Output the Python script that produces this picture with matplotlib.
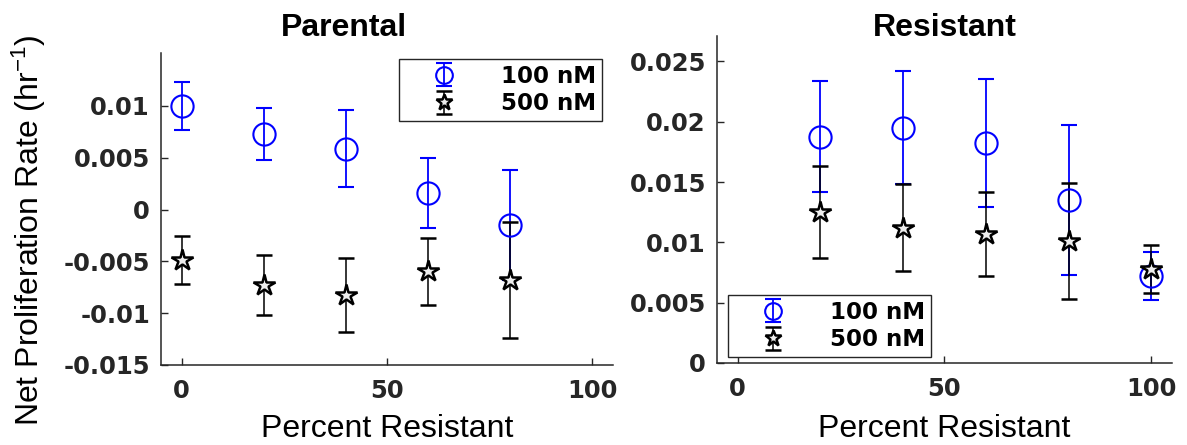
import matplotlib
matplotlib.use("Agg")
import matplotlib.pyplot as plt

plt.rcParams['mathtext.fontset'] = 'custom'
plt.rcParams['mathtext.rm'] = 'Liberation Sans'
plt.rcParams['mathtext.default'] = 'regular'

# Parental panel
par_x = [0, 20, 40, 60, 80]
par_100 = [0.0100, 0.00726, 0.00587, 0.00161, -0.00152]
par_100_err = [0.0023, 0.0025, 0.0037, 0.0034, 0.0053]
par_500 = [-0.00484, -0.00726, -0.00823, -0.00597, -0.00677]
par_500_err = [0.0023, 0.0029, 0.0036, 0.0032, 0.0056]

# Resistant panel
res_x = [20, 40, 60, 80, 100]
res_100 = [0.01874, 0.01951, 0.01825, 0.01351, 0.00722]
res_100_err = [0.0046, 0.0047, 0.0053, 0.0062, 0.0020]
res_500 = [0.01249, 0.01122, 0.01067, 0.01014, 0.00777]
res_500_err = [0.0038, 0.0036, 0.0035, 0.0048, 0.0020]

par_yticks = [-0.015, -0.01, -0.005, 0, 0.005, 0.01]
par_ylabels = ['-0.015', '-0.01', '-0.005', '0', '0.005', '0.01']
res_yticks = [0, 0.005, 0.01, 0.015, 0.02, 0.025]
res_ylabels = ['0', '0.005', '0.01', '0.015', '0.02', '0.025']
xticks = [0, 50, 100]

axis_col = '#262626'
tick_fs = 17.5
label_font = 'Liberation Sans'

fig = plt.figure(figsize=(11.87, 4.45), dpi=100)
# axes placed in pixel terms (figure 1187 x 445)
ax1 = fig.add_axes([161 / 1187, 80 / 445, 451.5 / 1187, 312 / 445])
ax2 = fig.add_axes([717 / 1187, 82 / 445, 455 / 1187, 327 / 445])


def draw(ax, x, y1, e1, y2, e2):
    ax.errorbar(x, y1, yerr=e1, fmt='o', color='#0000ff', mfc='none', mec='#0000ff',
                ms=16, mew=1.5, capsize=6, capthick=1.5, elinewidth=1.3, label='100 nM')
    ax.errorbar(x, y2, yerr=e2, fmt='*', color='black', mfc='#eeeeee', mec='black',
                ms=16, mew=1.8, capsize=6, capthick=1.5, elinewidth=1.1, label='500 nM')


draw(ax1, par_x, par_100, par_100_err, par_500, par_500_err)
draw(ax2, res_x, res_100, res_100_err, res_500, res_500_err)

ax1.set_ylim(-0.015, 0.0151)
ax1.set_yticks(par_yticks)
ax1.set_yticklabels(par_ylabels)
ax2.set_ylim(0, 0.0271)
ax2.set_yticks(res_yticks)
ax2.set_yticklabels(res_ylabels)

for ax in (ax1, ax2):
    ax.set_xlim(-5, 105)
    ax.set_xticks(xticks)
    for s in ('top', 'right'):
        ax.spines[s].set_visible(False)
    for s in ('left', 'bottom'):
        ax.spines[s].set_color(axis_col)
        ax.spines[s].set_linewidth(1.1)
    ax.tick_params(direction='in', length=5, width=1, colors=axis_col, labelsize=tick_fs)
    ax.tick_params(axis='x', pad=10)
    ax.tick_params(axis='y', pad=8)
    for lab in ax.get_xticklabels() + ax.get_yticklabels():
        lab.set_fontweight('bold')
    ax.set_xlabel('Percent Resistant', fontsize=23, family=label_font, color='black')
    ax.xaxis.label.set_va('baseline')

ax1.xaxis.set_label_coords(0.5, -72 / 312)
ax2.xaxis.set_label_coords(0.5, -74 / 327)

ax1.set_title('Parental', fontsize=23, fontweight='bold', family=label_font,
              x=0.406, y=1 + 17 / 312, pad=0)
ax2.set_title('Resistant', fontsize=23, fontweight='bold', family=label_font,
              y=1.0, pad=0)

ax1.set_ylabel('Net Proliferation Rate (hr$^{-1}$)', fontsize=23, family=label_font)
ax1.yaxis.label.set_va('baseline')
ax1.yaxis.set_label_coords(-122 / 451.5, 0.433)

leg_kw = dict(prop={'weight': 'bold', 'size': 16.5}, frameon=True, fancybox=False,
              edgecolor=axis_col, framealpha=1, borderaxespad=0, handlelength=3.4,
              handletextpad=0.8, borderpad=0.25, labelspacing=0.2, markerscale=0.75)
l1 = ax1.legend(loc='upper right', bbox_to_anchor=(0.977, 0.981), **leg_kw)
l2 = ax2.legend(loc='lower left', bbox_to_anchor=(0.024, 0.018), **leg_kw)
for lg in (l1, l2):
    lg.get_frame().set_linewidth(1.0)

fig.savefig('out.png', dpi=100)
